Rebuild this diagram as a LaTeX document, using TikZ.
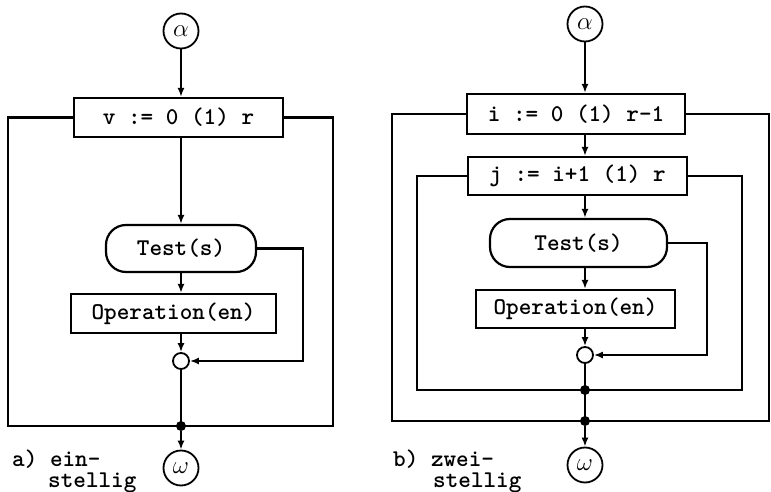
\documentclass[tikz,border=0pt]{standalone}
\usepackage{fontspec}
\usetikzlibrary{arrows.meta,calc}
\newfontfamily\mytypb{lmmonolt10-bold.otf}
\newcommand\mytt{\fontsize{24}{28}\selectfont\mytypb}
\tikzset{
  ln/.style={line width=2.2pt},
  arr/.style={line width=2.2pt,-{Latex[length=9pt,width=7pt]}},
  box/.style={draw,line width=2.2pt,rectangle,inner sep=0pt,font=\mytt},
  pill/.style={draw,line width=2.2pt,rectangle,rounded corners=20pt,inner sep=0pt,font=\mytt},
  term/.style={draw,circle,line width=1.8pt,inner sep=0pt,minimum size=35pt,font=\fontsize{28}{28}\selectfont},
  joint/.style={draw,circle,line width=1.8pt,fill=white,inner sep=0pt,minimum size=16pt},
  bdot/.style={circle,fill=black,inner sep=0pt,minimum size=10pt},
  lbl/.style={inner sep=0pt,font=\mytt}
}
\begin{document}
\begin{tikzpicture}[x=1pt,y=-1pt]
\useasboundingbox (0,0) rectangle (771,492);
% ---------- a) ----------
\coordinate (axA) at (181,0);
\coordinate (lA) at (8,0);
\coordinate (rA) at (333,0);
\coordinate (fA) at (303,0);
\node[term] (aA) at (181,31) {$\alpha$};
\node[box,minimum width=209pt,minimum height=39pt] (vA) at (178.5,117.5) {v := 0 (1) r};
\node[pill,minimum width=150pt,minimum height=47pt] (tA) at (181,248.5) {Test(s)};
\node[box,minimum width=205pt,minimum height=39pt] (oA) at (173.5,313.5) {Operation(en)};
\node[joint] (jA) at (181,361) {};
\node[bdot] (dA) at (181,426) {};
\node[term] (wA) at (181,468) {$\omega$};
\draw[arr] (aA) -- (aA |- vA.north);
\draw[arr] (vA.south -| axA) -- (tA.north -| axA);
\draw[arr] (tA.south -| axA) -- (oA.north -| axA);
\draw[arr] (oA.south -| axA) -- (jA);
\draw[ln] (jA) -- (dA.center);
\draw[arr] (dA) -- (wA);
\draw[ln] (vA.west) -- (vA.west -| lA) |- (dA.center) -| (rA |- vA.east) -- (vA.east);
\draw[arr] (tA.east) -- (tA.east -| fA) |- (jA);
\node[lbl,anchor=base west] (la1) at (12,466) {a) ein-};
\node[lbl,anchor=base west] (la2) at (48,487) {stellig};
% ---------- b) ----------
\coordinate (axB) at (585,0);
\coordinate (lB) at (392,0);
\coordinate (rB) at (769,0);
\coordinate (l2B) at (417,0);
\coordinate (r2B) at (742,0);
\coordinate (fB) at (707,0);
\node[term] (aB) at (585,24) {$\alpha$};
\node[box,minimum width=218pt,minimum height=40pt] (iB) at (576,114) {i := 0 (1) r-1};
\node[box,minimum width=219pt,minimum height=38pt] (jB) at (577.5,176) {j := i+1 (1) r};
\node[pill,minimum width=177pt,minimum height=48pt] (tB) at (578.5,243) {Test(s)};
\node[box,minimum width=199pt,minimum height=38pt] (oB) at (575.5,309) {Operation(en)};
\node[joint] (jnB) at (585,355) {};
\node[bdot] (d1B) at (585,390) {};
\node[bdot] (d2B) at (585,421) {};
\node[term] (wB) at (585,465) {$\omega$};
\draw[arr] (aB) -- (aB |- iB.north);
\draw[arr] (iB.south -| axB) -- (jB.north -| axB);
\draw[arr] (jB.south -| axB) -- (tB.north -| axB);
\draw[arr] (tB.south -| axB) -- (oB.north -| axB);
\draw[arr] (oB.south -| axB) -- (jnB);
\draw[ln] (jnB) -- (d1B.center) -- (d2B.center);
\draw[arr] (d2B) -- (wB);
\draw[ln] (iB.west) -- (iB.west -| lB) |- (d2B.center) -| (rB |- iB.east) -- (iB.east);
\draw[ln] (jB.west) -- (jB.west -| l2B) |- (d1B.center) -| (r2B |- jB.east) -- (jB.east);
\draw[arr] (tB.east) -- (tB.east -| fB) |- (jnB);
\node[lbl,anchor=base west] (lb1) at (393,466) {b) zwei-};
\node[lbl,anchor=base west] (lb2) at (433,487) {stellig};
\end{tikzpicture}
\end{document}
